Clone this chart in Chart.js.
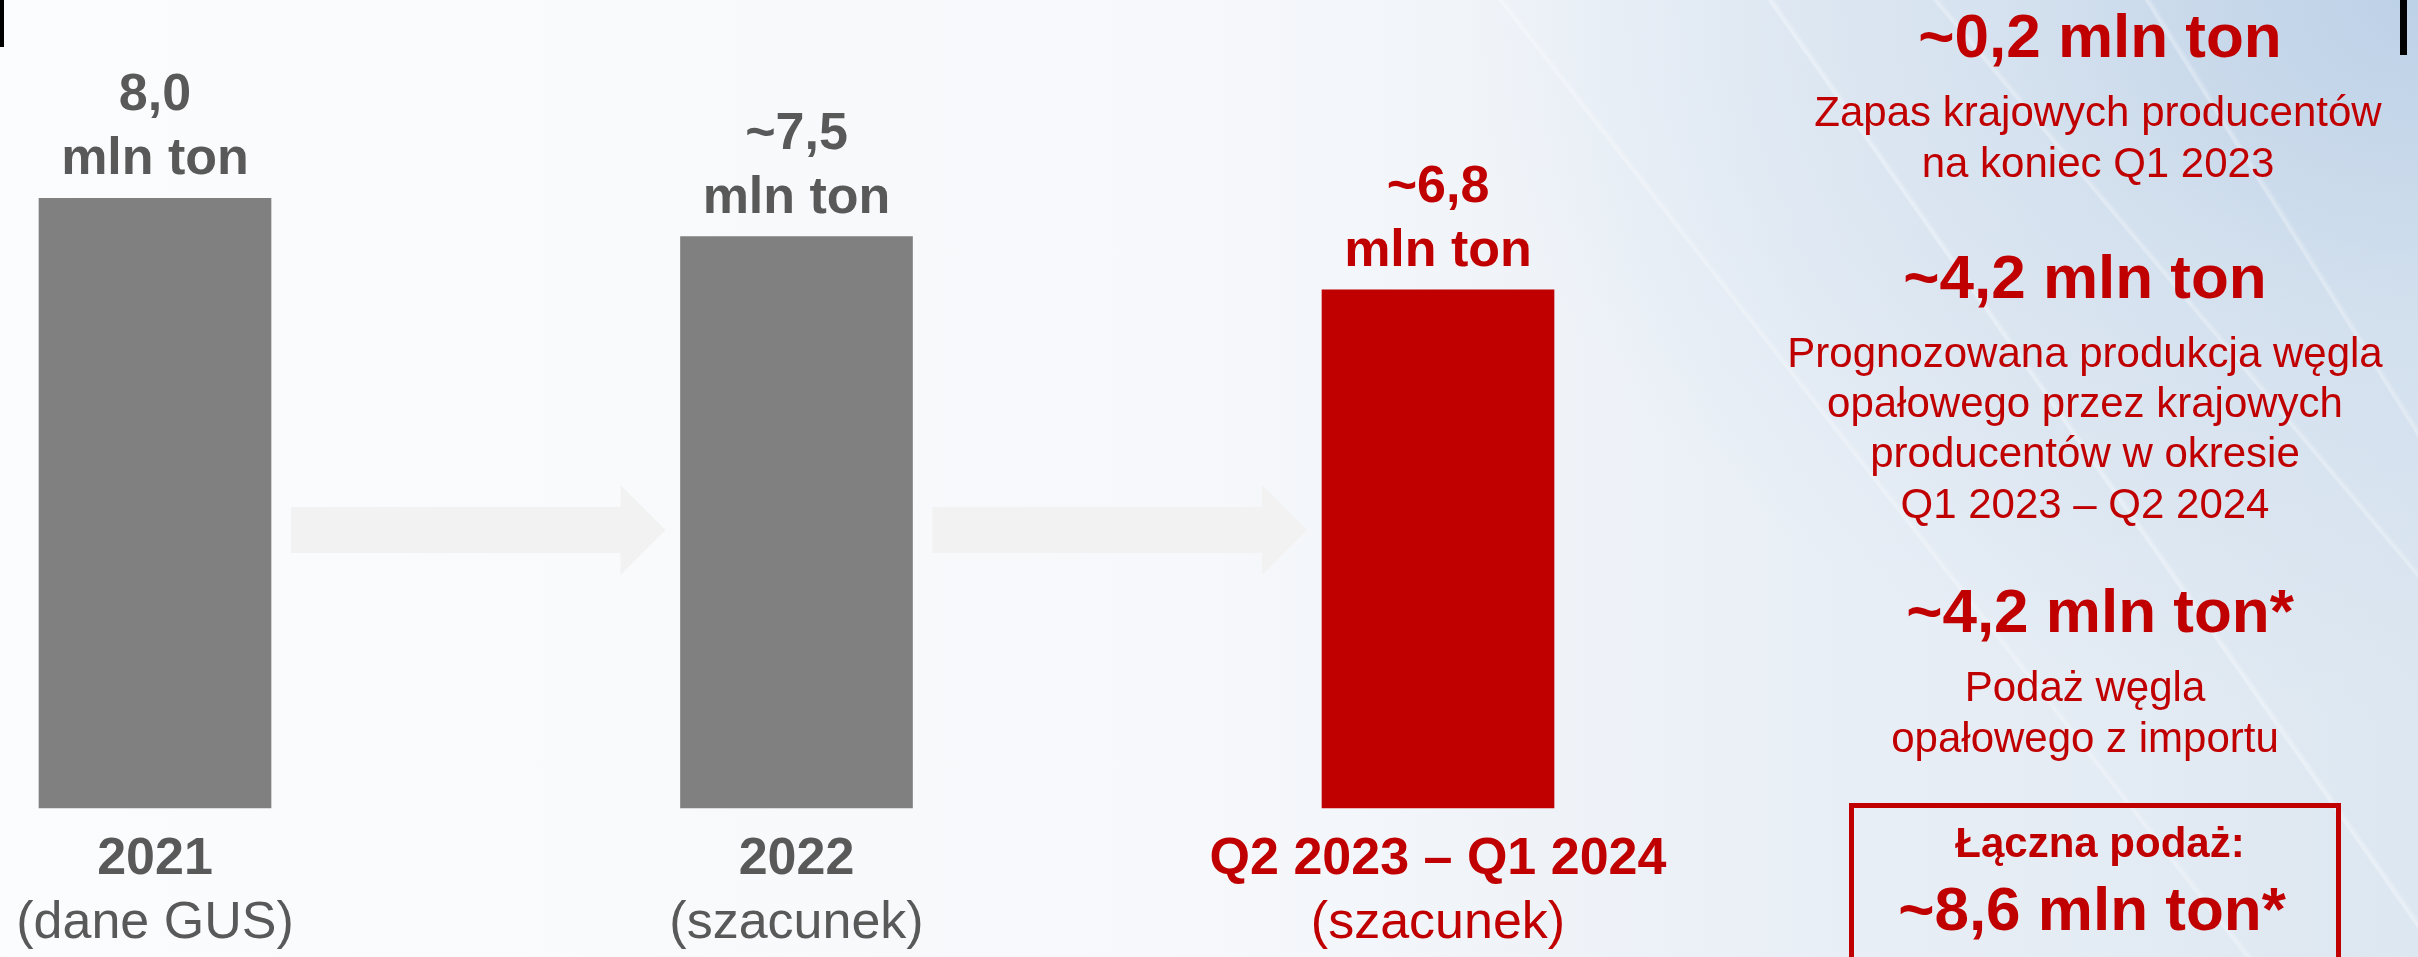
<!DOCTYPE html>
<html lang="pl">
<head>
<meta charset="utf-8">
<title>Podaż węgla opałowego</title>
<script src="https://cdn.jsdelivr.net/npm/chart.js@4/dist/chart.umd.min.js"></script>
<style>
  html, body {
    margin: 0;
    padding: 0;
    width: 2418px;
    height: 957px;
    overflow: hidden;
    font-family: "Liberation Sans", Arial, sans-serif;
  }
  body {
    position: relative;
    background:
      linear-gradient(52deg, transparent 70.9%, rgba(255,255,255,0.35) 71%, transparent 71.2%),
      linear-gradient(55deg, transparent 78.9%, rgba(255,255,255,0.4) 79%, transparent 79.2%),
      linear-gradient(50deg, transparent 84.9%, rgba(255,255,255,0.35) 85%, transparent 85.2%),
      linear-gradient(58deg, transparent 90.9%, rgba(255,255,255,0.35) 91%, transparent 91.2%),
      radial-gradient(ellipse 950px 720px at 100% 0%, #bdd1e7 0%, rgba(205,220,236,0.65) 45%, rgba(255,255,255,0) 100%),
      linear-gradient(to right, #fbfcfd 0%, #f6f8fb 50%, #e9eff6 75%, #dde7f1 100%);
  }
  #wrap {
    position: absolute;
    left: 0;
    top: 0;
    width: 2418px;
    height: 957px;
  }
  .line {
    position: absolute;
    white-space: nowrap;
    transform: translateX(-50%);
    color: #c00000;
    line-height: 1;
  }
  .big { font-size: 62px; font-weight: bold; }
  .txt { font-size: 42px; }
  .mid { font-size: 42px; font-weight: bold; }
  #box {
    position: absolute;
    left: 1849px;
    top: 803px;
    width: 482px;
    height: 200px;
    border: 5px solid #c00000;
  }
  .mark {
    position: absolute;
    top: 0;
    background: #000;
  }
</style>
</head>
<body>
<div id="wrap"><canvas id="chart" width="2418" height="957"></canvas></div>

<div class="mark" style="left:0;width:4px;height:47px"></div>
<div class="mark" style="left:2400px;width:7px;height:55px"></div>

<div class="line big" style="left:2100px;top:5px">~0,2 mln ton</div>
<div class="line txt" style="left:2098px;top:91px">Zapas krajowych producentów</div>
<div class="line txt" style="left:2098px;top:142px">na koniec Q1 2023</div>

<div class="line big" style="left:2085px;top:246px">~4,2 mln ton</div>
<div class="line txt" style="left:2085px;top:332px">Prognozowana produkcja węgla</div>
<div class="line txt" style="left:2085px;top:382px">opałowego przez krajowych</div>
<div class="line txt" style="left:2085px;top:432px">producentów w okresie</div>
<div class="line txt" style="left:2085px;top:483px">Q1 2023 – Q2 2024</div>

<div class="line big" style="left:2100px;top:580px">~4,2 mln ton*</div>
<div class="line txt" style="left:2085px;top:666px">Podaż węgla</div>
<div class="line txt" style="left:2085px;top:717px">opałowego z importu</div>

<div id="box"></div>
<div class="line mid" style="left:2100px;top:822px">Łączna podaż:</div>
<div class="line big" style="left:2092px;top:878px">~8,6 mln ton*</div>

<script>
const categories = ['2021', '2022', 'Q2 2023 – Q1 2024'];
const subLabels = ['(dane GUS)', '(szacunek)', '(szacunek)'];
const values = [8.0, 7.5, 6.8];
const valueLabels = ['8,0', '~7,5', '~6,8'];
const unitLabel = 'mln ton';
const barColors = ['#808080', '#808080', '#c00000'];
const textColors = ['#595959', '#595959', '#c00000'];

const FONT = '"Liberation Sans", Arial, sans-serif';

// labels above / below bars and arrows between them
const barLabels = {
  id: 'barLabels',
  beforeDatasetsDraw(chart) {
    const ctx = chart.ctx;
    const bars = chart.getDatasetMeta(0).data;
    const base = chart.scales.y.getPixelForValue(0);
    ctx.save();
    ctx.fillStyle = '#f2f2f2';
    for (let i = 0; i < bars.length - 1; i++) {
      const x0 = bars[i].x + bars[i].width / 2 + 20;
      const x1 = bars[i + 1].x - bars[i + 1].width / 2 - 15;
      const cy = base - 278;
      const head = 45;
      ctx.beginPath();
      ctx.moveTo(x0, cy - 23);
      ctx.lineTo(x1 - head, cy - 23);
      ctx.lineTo(x1 - head, cy - 45);
      ctx.lineTo(x1, cy);
      ctx.lineTo(x1 - head, cy + 45);
      ctx.lineTo(x1 - head, cy + 23);
      ctx.lineTo(x0, cy + 23);
      ctx.closePath();
      ctx.fill();
    }
    ctx.restore();
  },
  afterDatasetsDraw(chart) {
    const ctx = chart.ctx;
    const bars = chart.getDatasetMeta(0).data;
    const base = chart.scales.y.getPixelForValue(0);
    ctx.save();
    ctx.textAlign = 'center';
    ctx.textBaseline = 'alphabetic';
    bars.forEach((bar, i) => {
      ctx.fillStyle = textColors[i];
      ctx.font = 'bold 52px ' + FONT;
      ctx.fillText(valueLabels[i], bar.x, bar.y - 88);
      ctx.fillText(unitLabel, bar.x, bar.y - 24);
      ctx.fillText(categories[i], bar.x, base + 66);
      ctx.font = '52px ' + FONT;
      ctx.fillText(subLabels[i], bar.x, base + 130);
    });
    ctx.restore();
  }
};

new Chart(document.getElementById('chart').getContext('2d'), {
  type: 'bar',
  data: {
    labels: categories,
    datasets: [
      {
        label: 'Podaż węgla opałowego',
        data: values,
        backgroundColor: barColors,
        barThickness: 232,
        borderWidth: 0,
        clip: false,
      },
    ],
  },
  options: {
    responsive: false,
    animation: false,
    layout: {
      padding: { left: 155, right: 980, top: 46, bottom: 149 },
    },
    scales: {
      x: { display: false, offset: false, grid: { display: false } },
      y: { display: false, min: 0, max: 10 },
    },
    plugins: {
      legend: { display: false },
      tooltip: { enabled: false },
    },
  },
  plugins: [barLabels],
});
</script>
</body>
</html>
